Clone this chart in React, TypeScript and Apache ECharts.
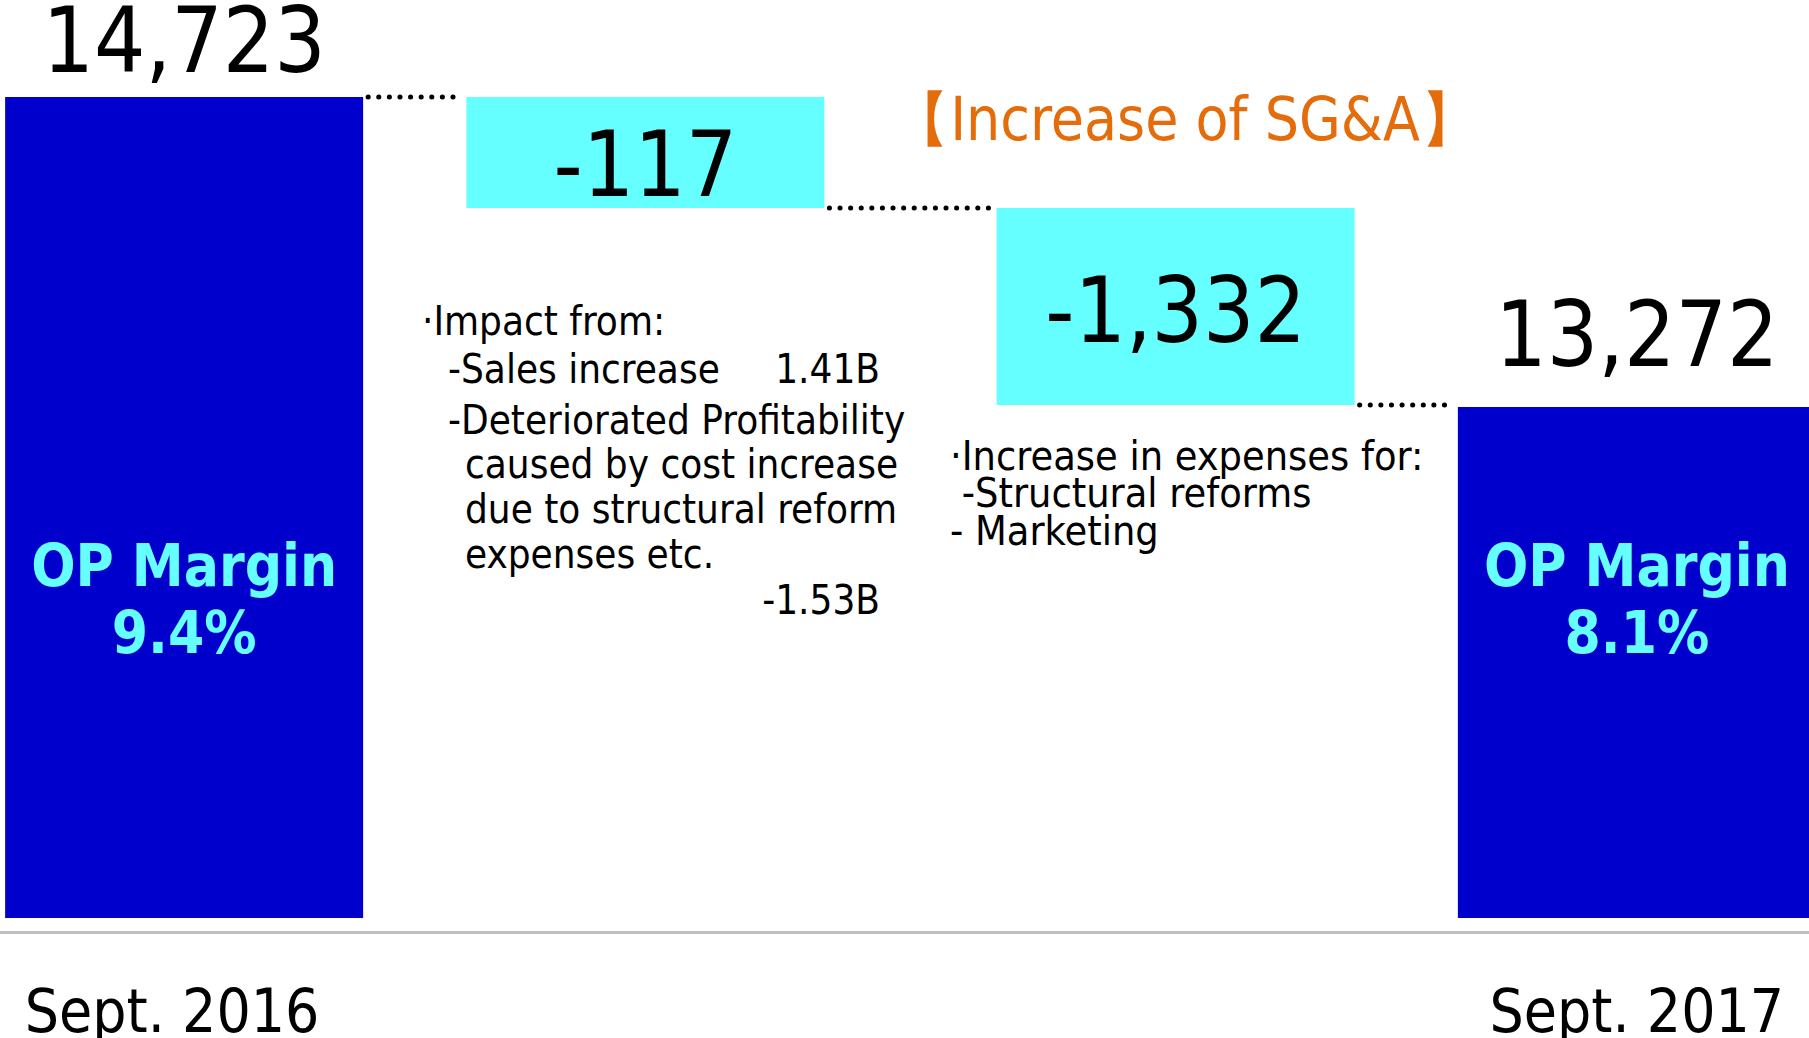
import React, { useEffect, useRef } from "react";
import * as echarts from "echarts";

const FONT = '"DejaVu Sans Condensed", "DejaVu Sans", sans-serif';

const categories = ["Sept. 2016", "", "", "Sept. 2017"];
const endTotals: (number | null)[] = [14723, null, null, 13272];
const changes: (number | null)[] = [null, -117, -1332, null];
const opMargins: (string | null)[] = ["9.4%", null, null, "8.1%"];

const sgaTitle = "【Increase of SG&A】";
const note1 = [
  "·Impact from:",
  "-Sales increase",
  "-Deteriorated Profitability",
  "caused by cost increase",
  "due to structural reform",
  "expenses etc.",
];
const note1Values = ["1.41B", "-1.53B"];
const note2 = ["·Increase in expenses for:", " -Structural reforms", "- Marketing"];

const BLUE = "#0000CC";
const CYAN = "#66FFFF";
const BAR_W = 358;
const SLOT_SHIFT = 23;
const BAR_GAP = SLOT_SHIFT / BAR_W - 1; // fraction
const BIG = 90;
// label distance above the end-total bars (first / last)
const CAP_DIST = [22, 38];

function build() {
  const base: (number | string)[] = [];
  const delta: (number | string)[] = [];
  const totals: (number | string)[] = [];
  const caps: (number | string)[] = [];
  const levels: number[] = [];
  let run = 0;
  categories.forEach((_, i) => {
    const t = endTotals[i];
    const c = changes[i];
    if (t != null) {
      totals.push(t);
      caps.push(0);
      base.push("-");
      delta.push("-");
      run = t;
    } else if (c != null) {
      const after = run + c;
      base.push(Math.min(run, after));
      delta.push(Math.abs(c));
      totals.push("-");
      caps.push("-");
      run = after;
    }
    levels.push(run);
  });
  return { base, delta, totals, caps, levels };
}

export default function App() {
  const ref = useRef<HTMLDivElement>(null);
  useEffect(() => {
    if (!ref.current) return;
    const chart = echarts.init(ref.current, undefined, { renderer: "svg" });
    const { base, delta, totals, caps, levels } = build();
    const changeIdx = categories.map((_, i) => i).filter((i) => changes[i] != null);
    const stackOf = (i: number) => (changes[i] != null ? `chg${i}` : "total");
    const stackOrder = [`chg${changeIdx[0]}`, "total", ...changeIdx.slice(1).map((i) => `chg${i}`)];
    const centerIdx = stackOrder.indexOf("total");
    const offsetOf = (i: number) => (stackOrder.indexOf(stackOf(i)) - centerIdx) * SLOT_SHIFT;
    const connectors = levels.slice(0, levels.length - 1).map((v, i) => [i, v]);

    const common = { type: "bar", barWidth: BAR_W, barGap: `${(BAR_GAP * 100).toFixed(3)}%` };

    const changeSeries = (i: number) => [
      {
        ...common,
        name: `base${i}`,
        stack: `chg${i}`,
        silent: true,
        data: categories.map((_, j) => (j === i ? base[j] : "-")),
        itemStyle: { color: "transparent" },
      },
      {
        ...common,
        name: `change${i}`,
        stack: `chg${i}`,
        data: categories.map((_, j) => (j === i ? delta[j] : "-")),
        itemStyle: { color: CYAN },
        label: {
          show: true,
          position: "inside",
          offset: [0, i === changeIdx[0] ? 12 : 4],
          fontSize: BIG,
          fontFamily: FONT,
          color: "#000",
          formatter: (p: any) => {
            const c = changes[p.dataIndex];
            return c == null ? "" : c.toLocaleString("en-US");
          },
        },
      },
    ];

    let capCount = 0;
    const capData = caps.map((v) => {
      if (v === "-") return v;
      const d = CAP_DIST[Math.min(capCount++, CAP_DIST.length - 1)];
      return { value: v, label: { distance: d } };
    });

    const totalSeries = [
      {
        ...common,
        name: "total",
        stack: "total",
        data: totals,
        itemStyle: { color: BLUE },
        label: {
          show: true,
          position: "insideBottom",
          distance: 252,
          fontSize: 58,
          lineHeight: 67,
          fontWeight: "bold",
          fontFamily: FONT,
          color: CYAN,
          formatter: (p: any) => {
            const m = opMargins[p.dataIndex];
            return m == null ? "" : `OP Margin\n${m}`;
          },
        },
      },
      {
        ...common,
        name: "cap",
        stack: "total",
        data: capData,
        silent: true,
        itemStyle: { color: "transparent" },
        label: {
          show: true,
          position: "top",
          fontSize: BIG,
          lineHeight: 70,
          fontFamily: FONT,
          color: "#000",
          formatter: (p: any) => {
            const t = endTotals[p.dataIndex];
            return t == null ? "" : t.toLocaleString("en-US");
          },
        },
      },
    ];

    const txt = (text: string, x: number, y: number, opts: any = {}) => ({
      type: "text",
      x,
      y,
      silent: true,
      style: {
        text,
        fill: opts.fill || "#000",
        fontSize: opts.fontSize || 40,
        fontFamily: FONT,
        lineHeight: opts.lineHeight,
        align: opts.align || "left",
        textAlign: opts.align || "left",
        verticalAlign: opts.vAlign || "middle",
        textVerticalAlign: opts.vAlign || "middle",
      },
    });

    const option: any = {
      animation: false,
      backgroundColor: "#fff",
      grid: {
        left: -58,
        right: -70,
        top: 97,
        bottom: 120,
        containLabel: false,
        outerBoundsMode: "none",
      },
      xAxis: {
        type: "category",
        data: categories.map((c, i) =>
          i === 0 ? { value: c, textStyle: { padding: [0, 24, 0, 0] } } : c
        ),
        offset: 14,
        axisLine: { show: true, lineStyle: { color: "#BFBFBF", width: 3 } },
        axisTick: { show: false },
        axisLabel: { fontSize: 60, lineHeight: 50, color: "#000", fontFamily: FONT, margin: 54 },
        splitLine: { show: false },
      },
      yAxis: {
        type: "value",
        min: 12733,
        max: 14723,
        show: false,
        splitLine: { show: false },
        breaks: [{ start: 13380, end: 14504, gap: 0 }],
        breakArea: { show: false },
      },
      series: [
        ...changeSeries(changeIdx[0]),
        ...totalSeries,
        ...changeIdx.slice(1).flatMap((i) => changeSeries(i)),
        {
          name: "connector",
          type: "custom",
          silent: true,
          z: 5,
          data: connectors,
          encode: { x: 0, y: 1 },
          renderItem: (params: any, api: any) => {
            const i = api.value(0);
            const v = api.value(1);
            const p1 = api.coord([i, v]);
            const p2 = api.coord([i + 1, v]);
            const half = BAR_W / 2;
            return {
              type: "line",
              shape: {
                x1: p1[0] + offsetOf(i) + half + 5,
                y1: p1[1],
                x2: p2[0] + offsetOf(i + 1) - half - 5,
                y2: p1[1],
              },
              style: { stroke: "#000", lineWidth: 5, lineDash: [0.1, 10.5], lineCap: "round" },
            };
          },
        },
      ],
      graphic: [
        txt(sgaTitle, 1185, 119, { fill: "#E46C0A", fontSize: 60, align: "center" }),
        txt(note1[0], 422, 321),
        txt(note1[1], 448, 369),
        txt(note1Values[0], 880, 369, { align: "right" }),
        txt(note1[2], 448, 420),
        txt(note1[3], 465, 464),
        txt(note1[4], 465, 509),
        txt(note1[5], 465, 554),
        txt(note1Values[1], 880, 600, { align: "right" }),
        txt(note2.join("\n"), 950, 437, { lineHeight: 37.5, vAlign: "top", fontSize: 41 }),
      ],
    };
    chart.setOption(option);
    return () => chart.dispose();
  }, []);
  return (
    <div
      ref={ref}
      style={{ position: "fixed", left: 0, top: 0, width: 1809, height: 1038, background: "#fff" }}
    />
  );
}
